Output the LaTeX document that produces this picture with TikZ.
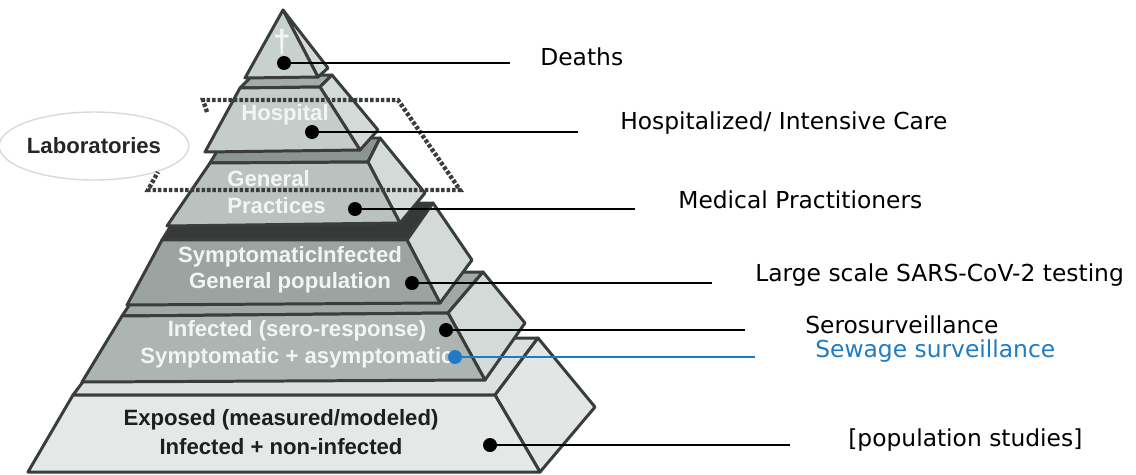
\documentclass[tikz,border=0pt]{standalone}
\usepackage{fontspec}
\setmainfont{Liberation Sans}
\newfontfamily\tagfont{DejaVu Sans}
\usepackage{tikz}
\usetikzlibrary{positioning,shapes.geometric}

\definecolor{rim}{HTML}{3A3D3C}
\definecolor{dfront}{HTML}{C9D1CE}
\definecolor{hfront}{HTML}{C5CDCA}
\definecolor{pfront}{HTML}{B9C2BF}
\definecolor{gfront}{HTML}{9BA4A1}
\definecolor{sfront}{HTML}{ACB5B2}
\definecolor{efront}{HTML}{E4E8E7}
\definecolor{sideface}{HTML}{D3DAD8}
\definecolor{eside}{HTML}{E2E7E5}
\definecolor{htop}{HTML}{A3ACA9}
\definecolor{ptop}{HTML}{8B9592}
\definecolor{gtop}{HTML}{363938}
\definecolor{stop}{HTML}{A0A9A6}
\definecolor{etop}{HTML}{DCE1DF}
\definecolor{tiertxt}{HTML}{F2F5F4}
\definecolor{sewage}{HTML}{1F7BC4}

\begin{document}
\begin{tikzpicture}
    [ x = 0.02cm, y = -0.02cm
    , face/.style =
      { draw=rim, line width=1.7pt, line join=round }
    , dot/.style =
      { circle, fill=black, inner sep=0pt, minimum size=0.28cm }
    , lead/.style =
      { line width=0.9pt }
    , tiertext/.style =
      { text=tiertxt, align=center, inner sep=0pt,
        font=\bfseries\fontsize{12.6}{15}\selectfont }
    , tag/.style =
      { inner sep=0pt, font=\tagfont\fontsize{13.3}{16}\selectfont }
    , labzone/.style =
      { draw=rim, line width=2.5pt, dash pattern=on 2pt off 1.1pt }
    ]
    \useasboundingbox (0,0) rectangle (1136,474);

    % exposed
    \filldraw [face,fill=etop] (73,395) -- (495,395) -- (538,338) -- (116,338) -- cycle;
    \filldraw [face,fill=eside] (495,395) -- (538,338) -- (595,407) -- (540,472) -- cycle;
    \filldraw [face,fill=efront] (73,395) -- (495,395) -- (540,472) -- (28,472) -- cycle;
    % sero-response
    \filldraw [face,fill=stop] (122,316) -- (448,313) -- (483,272) -- (150,274) -- cycle;
    \filldraw [face,fill=sideface] (448,313) -- (483,272) -- (525,323) -- (485,380) -- cycle;
    \filldraw [face,fill=sfront] (122,316) -- (448,313) -- (485,380) -- (82,382) -- cycle;
    % general population
    \filldraw [face,fill=gtop] (162,240) -- (407,240) -- (433,203) -- (185,203) -- cycle;
    \filldraw [face,fill=sideface] (407,240) -- (433,203) -- (472,260) -- (440,303) -- cycle;
    \filldraw [face,fill=gfront] (162,240) -- (407,240) -- (440,303) -- (127,305) -- cycle;
    % general practices
    \filldraw [face,fill=ptop] (210,163) -- (368,162) -- (380,138) -- (225,138) -- cycle;
    \filldraw [face,fill=sideface] (368,162) -- (380,138) -- (425,193) -- (400,223) -- cycle;
    \filldraw [face,fill=pfront] (210,163) -- (368,162) -- (400,223) -- (167,226) -- cycle;
    % hospital
    \filldraw [face,fill=htop] (240,88) -- (320,87) -- (332,75) -- (252,76) -- cycle;
    \filldraw [face,fill=sideface] (320,87) -- (332,75) -- (378,130) -- (360,150) -- cycle;
    \filldraw [face,fill=hfront] (240,88) -- (320,87) -- (360,150) -- (205,152) -- cycle;
    % deaths
    \filldraw [face,fill=sideface] (283,10) -- (328,68) -- (318,77) -- cycle;
    \filldraw [face,fill=dfront] (283,10) -- (318,77) -- (245,78) -- cycle;

    \node [tiertext,font=\bfseries\fontsize{18}{18}\selectfont] (cross) at (282,42) {\textdagger};
    \node [tiertext] (hosp) at (285,115) {Hospital};
    \node [tiertext,align=left,anchor=west] (gp) at (227,192) {General\\Practices};
    \node [tiertext] (genpop) at (290,270) {SymptomaticInfected\\General population};
    \node [tiertext,font=\bfseries\fontsize{12.6}{15.5}\selectfont] (sero) at (297,344)
      {Infected (sero-response)\\Symptomatic + asymptomatic};
    \node [tiertext,text=black!88,font=\bfseries\fontsize{12.6}{16.5}\selectfont] (exposed) at (281,432)
      {Exposed (measured/modeled)\\Infected + non-infected};

    \node [ellipse, draw=black!15, line width=0.8pt, minimum width=3.44cm, minimum height=1.36cm,
      inner sep=0pt, font=\bfseries\fontsize{12.6}{15}\selectfont, text=black!85] (labs) at (94,146) {Laboratories};

    \draw [labzone] (207,112) -- (203,100) -- (398,100) -- (460,190) -- (148,190) -- (158,172);

    \node [dot] (deathsdot) at (284,63) {};
    \node [dot] (hospdot) at (312,132) {};
    \node [dot] (gpdot) at (355,209) {};
    \node [dot] (genpopdot) at (412,283) {};
    \node [dot] (serodot) at (446,330) {};
    \node [dot,fill=sewage] (sewagedot) at (455,357) {};
    \node [dot] (exposeddot) at (490,445) {};

    \coordinate (deathsend) at (510,63);
    \coordinate (hospend) at (578,132);
    \coordinate (gpend) at (635,209);
    \coordinate (genpopend) at (712,283);
    \coordinate (seroend) at (745,330);
    \coordinate (sewageend) at (755,357);
    \coordinate (exposedend) at (790,445);

    \node [tag,yshift=.12cm] (deaths) [right=.6cm of deathsend] {Deaths};
    \node [tag,yshift=.18cm] (hospitalized) [right=.84cm of hospend] {Hospitalized/ Intensive Care};
    \node [tag,yshift=.18cm] (medical) [right=.86cm of gpend] {Medical Practitioners};
    \node [tag,yshift=.16cm] (testing) [right=.86cm of genpopend] {Large scale SARS-CoV-2 testing};
    \node [tag,yshift=.1cm] (serosurv) [right=1.2cm of seroend] {Serosurveillance};
    \node [tag,yshift=.12cm,text=sewage] (sewagesurv) [right=1.2cm of sewageend] {Sewage surveillance};
    \node [tag,yshift=.1cm] (popstudies) [right=1.16cm of exposedend] {[population studies]};

    \draw [lead] (deathsdot) -- (deathsend);
    \draw [lead] (hospdot) -- (hospend);
    \draw [lead] (gpdot) -- (gpend);
    \draw [lead] (genpopdot) -- (genpopend);
    \draw [lead] (serodot) -- (seroend);
    \draw [lead,sewage,line width=1.1pt] (sewagedot) -- (sewageend);
    \draw [lead] (exposeddot) -- (exposedend);
\end{tikzpicture}
\end{document}
